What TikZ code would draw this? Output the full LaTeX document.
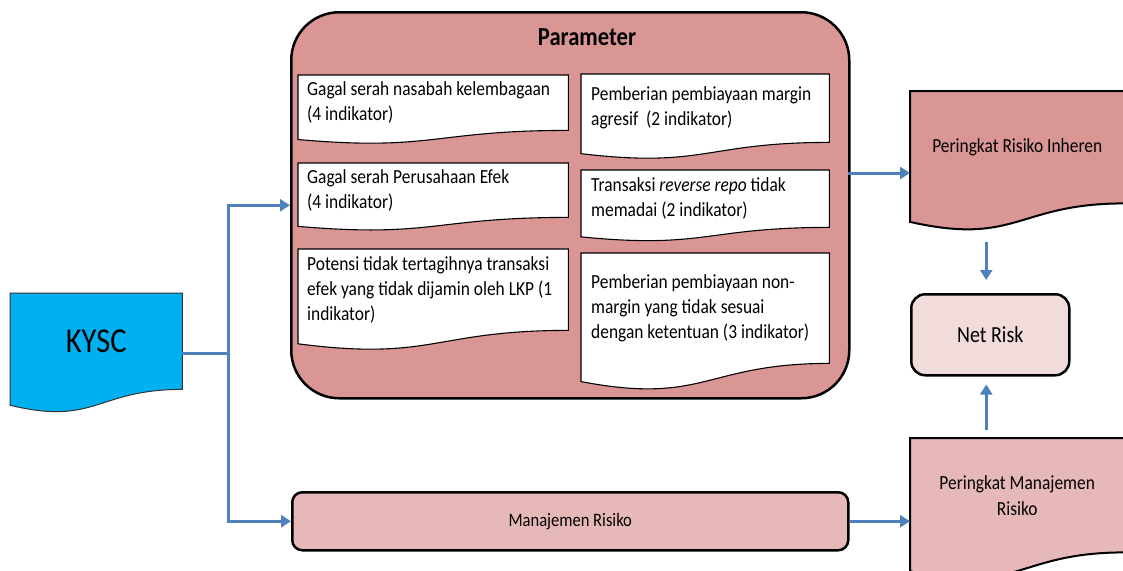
\documentclass[tikz,border=0pt]{standalone}
\usepackage{fontspec}
\setmainfont{Carlito}[FakeStretch=0.87]
\usetikzlibrary{calc,arrows.meta}
\pgfdeclarelayer{bottom}
\pgfdeclarelayer{background}
\pgfsetlayers{bottom,background,main}

\definecolor{rosedeep}{HTML}{D99694}
\definecolor{rosepale}{HTML}{E6B9B8}
\definecolor{roselight}{HTML}{F2DCDB}
\definecolor{kyscblue}{HTML}{00B0F0}
\definecolor{flowblue}{HTML}{4F81BD}

% document shape (wavy bottom) drawn behind a node; the node covers the text area
\newcommand\docshape[2]{%
  \begin{pgfonlayer}{background}
    \path[#2] (#1.north west) -- (#1.north east) -- (#1.south east)
      .. controls (#1.south) and ($(#1.south)!-0.38!(#1.north)$)
      .. ($(#1.south west)!-0.1646!(#1.north west)$) -- cycle;
  \end{pgfonlayer}}

\tikzset{
  flow/.style={draw=flowblue, line width=3pt, -{Triangle[length=10pt,width=12pt]}},
  flowline/.style={draw=flowblue, line width=3pt},
  itembox/.style={anchor=north west, inner sep=0pt},
  itemtext/.style={anchor=west, inner sep=0pt, align=left,
    font=\fontsize{20}{25}\selectfont},
  itemdoc/.style={fill=white, draw=black, line width=1.1pt},
  sidebox/.style={anchor=north west, inner sep=0pt, align=center,
    font=\fontsize{20}{26}\selectfont},
}

\begin{document}
\begin{tikzpicture}[x=1pt,y=-1pt]
\useasboundingbox (0,0) rectangle (1123,570);

% outer parameter frame
\begin{pgfonlayer}{bottom}
\node[anchor=north west, draw=black, line width=2.5pt, fill=rosedeep,
  rounded corners=48pt, minimum width=558pt, minimum height=386pt] (param) at (290,11) {};
\end{pgfonlayer}
\node[font=\fontsize{26}{30}\selectfont\bfseries] (ptitle) at (587,37) {Parameter};

% parameter items: document frames
\node[itembox, minimum width=270pt, minimum height=55pt] (i1) at (298,75) {};
\node[itembox, minimum width=248pt, minimum height=68pt] (i2) at (581,74) {};
\node[itembox, minimum width=270pt, minimum height=54pt] (i3) at (298,163) {};
\node[itembox, minimum width=248pt, minimum height=57pt] (i4) at (581,170) {};
\node[itembox, minimum width=270pt, minimum height=81pt] (i5) at (298,249) {};
\node[itembox, minimum width=248pt, minimum height=110pt] (i6) at (581,253) {};
\foreach \n in {i1,i2,i3,i4,i5,i6}{\docshape{\n}{itemdoc}}

% parameter items: texts
\node[itemtext] (t1) at ([xshift=9pt]i1.west) {Gagal serah nasabah kelembagaan\\(4 indikator)};
\node[itemtext] (t2) at ([xshift=10pt]i2.west) {Pemberian pembiayaan margin\\agresif\ \ (2 indikator)};
\node[itemtext] (t3) at ([xshift=9pt]i3.west) {Gagal serah Perusahaan Efek\\(4 indikator)};
\node[itemtext] (t4) at ([xshift=10pt]i4.west) {Transaksi \textit{reverse repo} tidak\\memadai (2 indikator)};
\node[itemtext] (t5) at ([xshift=9pt]i5.west) {Potensi tidak tertagihnya transaksi\\efek yang tidak dijamin oleh LKP (1\\indikator)};
\node[itemtext] (t6) at ([xshift=10pt]i6.west) {Pemberian pembiayaan non-\\margin yang tidak sesuai\\dengan ketentuan (3 indikator)};

% source document
\node[anchor=north west, inner sep=0pt, minimum width=172pt, minimum height=96pt,
  font=\fontsize{35}{40}\selectfont] (kysc) at (10,293) {KYSC};
\docshape{kysc}{fill=kyscblue, draw=black!80, line width=1pt}

% risk management bar
\node[anchor=north west, draw=black, line width=2.5pt, fill=rosepale, rounded corners=10pt,
  minimum width=556pt, minimum height=58pt, font=\fontsize{19}{23}\selectfont] (manrisk) at (291,491)
  {Manajemen Risiko};

% ratings
\node[sidebox, minimum width=214pt, minimum height=112pt] (inh) at (910,91)
  {Peringkat Risiko Inheren};
\docshape{inh}{fill=rosedeep, draw=black, line width=2pt}
\node[sidebox, minimum width=214pt, minimum height=114pt] (pmr) at (910,438)
  {Peringkat Manajemen\\Risiko};
\docshape{pmr}{fill=rosepale, draw=black, line width=2pt}

\node[anchor=north west, draw=black, line width=2.5pt, fill=roselight, rounded corners=14pt,
  minimum width=158pt, minimum height=81pt, font=\fontsize{23}{27}\selectfont] (net) at (910,293)
  {Net Risk};

% connectors
\coordinate (split) at (228,353);
\coordinate (pout) at (848,173);
\draw[flowline] (split -| kysc.east) -- (split);
\draw[flow] (split) |- (param.west);
\draw[flow] (split) |- (manrisk.west);
\draw[flow] (pout) -- (pout -| inh.west);
\draw[flow] (manrisk.east) -- (manrisk.east -| pmr.west);
\draw[flow] ([xshift=-4pt,yshift=51pt]net.north) -- ([xshift=-4pt,yshift=13pt]net.north);
\draw[flow] ([xshift=-4pt,yshift=-53pt]net.south) -- ([xshift=-4pt,yshift=-8pt]net.south);
\end{tikzpicture}
\end{document}
